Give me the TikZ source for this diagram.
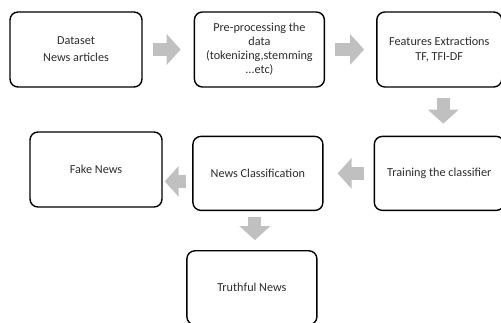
\documentclass[tikz,border=0pt]{standalone}
\usepackage{fontspec}
\setmainfont{Carlito}
\usetikzlibrary{arrows.meta, positioning, calc}
\definecolor{flowgray}{RGB}{192, 192, 192}
\definecolor{textgray}{RGB}{45, 45, 45}

\begin{document}
\begin{tikzpicture}[x=1pt, y=-1pt,
    stepbox/.style={draw=black, line width=1.4pt, rounded corners=8pt, fill=white,
      minimum width=130pt, minimum height=75pt, align=center, text=textgray,
      font=\fontsize{12.2}{14}\selectfont, inner sep=2pt},
    flow/.style={draw=flowgray, line width=13pt,
      -{Triangle[length=14pt, width=30pt]}, flowgray}]
  \useasboundingbox (0,0) rectangle (501,323);
  % top row
  \node[stepbox, minimum width=132pt] (data) at (76,49.5) {Dataset\\[3pt]News articles};
  \node[stepbox, right=51pt of data] (prep) {Pre-processing the\\data\\(tokenizing,stemming\\...etc)};
  \node[stepbox, minimum width=125pt, right=51pt of prep] (feat) {Features Extractions\\[1pt]TF, TFI-DF};
  % second row
  \node[stepbox, minimum height=74pt, below=48pt of feat] (train) {Training the classifier};
  \node[stepbox, minimum height=74pt, left=50pt of train] (cls) {News Classification};
  \node[stepbox, minimum width=132pt] (fake) at (96,169.5) {Fake News};
  % result
  \node[stepbox, minimum height=74pt, below=39pt of cls, xshift=-6pt] (truth) {Truthful News};
  % arrows
  \draw[flow, shorten <=10pt, shorten >=13pt] (data.east) -- (prep.west);
  \draw[flow, shorten <=10pt, shorten >=12pt] (prep.east) -- (feat.west);
  \draw[flow, shorten <=10pt, shorten >=12pt] ([xshift=4pt]feat.south) -- ([xshift=4pt]feat.south |- train.north);
  \draw[flow, shorten <=10pt, shorten >=14pt] (train.west) -- (cls.east);
  \draw[flow, shorten <=6pt, shorten >=2pt] ([yshift=-8pt]cls.west) -- ([yshift=-8pt]cls.west -| fake.east);
  \draw[flow, shorten <=6pt, shorten >=10pt] ([xshift=-3pt]cls.south) -- ([xshift=-3pt]cls.south |- truth.north);
\end{tikzpicture}
\end{document}
